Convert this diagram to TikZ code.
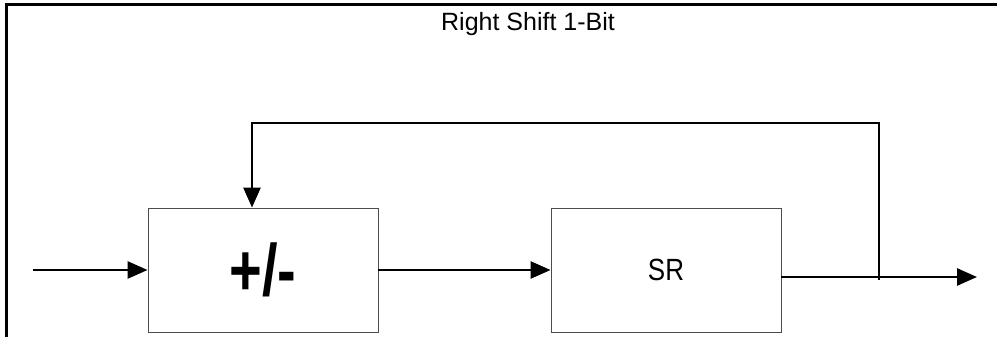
\documentclass[tikz,border=0pt]{standalone}
\usepackage{fontspec}
\usepackage{graphicx}
\setmainfont{Liberation Sans}
\usetikzlibrary{arrows.meta}
\tikzset{
  blockbox/.style={draw=black!70, line width=0.9pt, minimum width=230pt, minimum height=124pt, inner sep=0pt},
  wire/.style={line width=2.6pt, black},
  arrowwire/.style={wire, -{Triangle[length=20pt, width=17pt]}},
  frameline/.style={line width=3pt, black},
}
\begin{document}
\begin{tikzpicture}[x=1pt, y=-1pt]
\useasboundingbox (0,0) rectangle (997,337);
\draw[frameline] (6,337) -- (6,5) -- (997,5);
\node[anchor=base, inner sep=0pt, font=\fontsize{25}{25}\selectfont] (title) at (528,31) {Right Shift 1-Bit};
\node[blockbox] (add) at (263,270) {\scalebox{1}[1.3]{\fontsize{56}{56}\selectfont\bfseries +/-}};
\node[blockbox] (sr) at (666,270) {\scalebox{1}[1.18]{\fontsize{26}{26}\selectfont SR}};
\coordinate (in) at (33,270);
\coordinate (out) at (977,277);
\coordinate (tap) at (879,280);
\coordinate (fbtop) at (879,123);
\draw[arrowwire] (in) -- (add.west);
\draw[arrowwire] (add.east) -- (sr.west);
\draw[arrowwire] (sr.east |- out) -- (out);
\draw[arrowwire] (tap) -- (fbtop) -| ([xshift=-11pt]add.north);
\end{tikzpicture}
\end{document}
